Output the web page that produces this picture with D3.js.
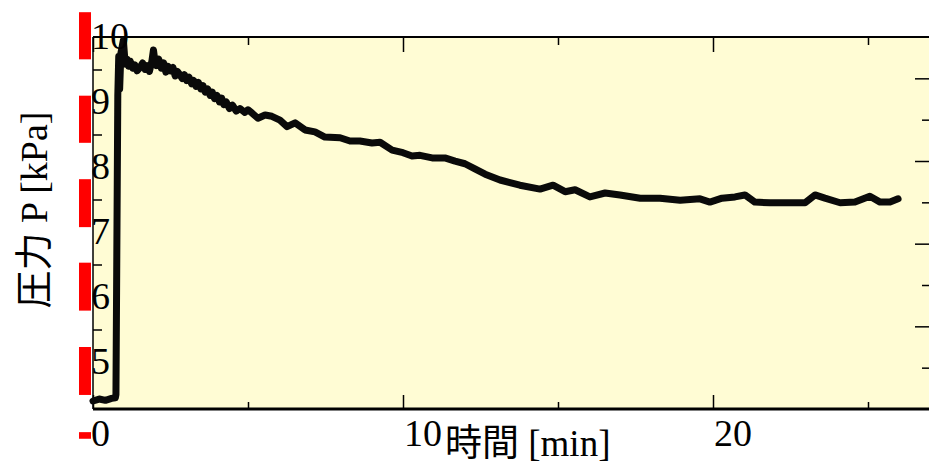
<!DOCTYPE html>
<html>
<head>
<meta charset="utf-8">
<script src="https://d3js.org/d3.v7.min.js"></script>
<style>
    body { margin: 0; background: #fff; }
    text { font-family: "Liberation Serif", "Noto Sans CJK JP", serif; fill: #000; }
</style>
</head>
<body>
<div id="chart"></div>
<script>
// time [min] and pressure [kPa]
var times = [0, 0.2, 0.4, 0.6, 0.72, 0.74, 0.80, 0.83, 0.86, 0.90, 0.98, 1.02, 1.06, 1.1, 1.15, 1.2, 1.28, 1.35,
    1.42, 1.5, 1.6, 1.68, 1.75, 1.82, 1.9, 1.95, 2.0, 2.05, 2.12, 2.2, 2.28, 2.35, 2.42, 2.5, 2.58, 2.65, 2.72, 2.8,
    2.88, 2.95, 3.02, 3.1, 3.18, 3.25, 3.32, 3.4, 3.48,
    3.55, 3.62, 3.7, 3.78, 3.85, 3.92, 4.0, 4.08, 4.15, 4.22, 4.3, 4.4, 4.5, 4.62, 4.74, 4.9, 5.0, 5.13, 5.32, 5.55, 5.77, 6.03, 6.26, 6.52,
    6.84, 7.16, 7.48, 7.97, 8.29, 8.61, 9.0, 9.26, 9.65, 10.0, 10.29, 10.55, 10.94, 11.35,
    11.68, 12.0, 12.32, 12.65, 13.13, 13.77, 14.42, 14.84, 15.23, 15.55, 16.03, 16.52, 17.0,
    17.65, 18.29, 18.94, 19.58, 19.9, 20.29, 20.71, 21.03, 21.35, 21.84, 22.48, 22.97, 23.29,
    23.61, 24.1, 24.58, 25.06, 25.39, 25.71, 25.97];
var pressure = [4.40, 4.43, 4.41, 4.44, 4.45, 4.5, 9.10, 9.70, 9.20, 9.75, 9.95, 9.70, 9.58, 9.66, 9.55, 9.63, 9.52, 9.57,
    9.48, 9.52, 9.60, 9.50, 9.56, 9.47, 9.63, 9.80, 9.62, 9.56, 9.66, 9.52, 9.60, 9.46, 9.55, 9.48, 9.53, 9.40, 9.47, 9.42,
    9.36, 9.42, 9.33, 9.38, 9.28, 9.33, 9.24, 9.30, 9.20,
    9.25, 9.15, 9.20, 9.10, 9.15, 9.05, 9.10, 9.00, 9.06, 8.96, 9.00, 8.90, 8.95, 8.86, 8.90, 8.84, 8.88, 8.83, 8.75, 8.80, 8.78, 8.72, 8.62, 8.68,
    8.57, 8.54, 8.46, 8.45, 8.40, 8.40, 8.37, 8.38, 8.26, 8.22, 8.17, 8.18, 8.14, 8.14,
    8.09, 8.05, 7.97, 7.89, 7.80, 7.72, 7.66, 7.72, 7.62, 7.65, 7.54, 7.60, 7.57,
    7.52, 7.52, 7.49, 7.51, 7.46, 7.52, 7.54, 7.57, 7.46, 7.45, 7.45, 7.45, 7.57,
    7.52, 7.45, 7.46, 7.55, 7.46, 7.46, 7.51];

var xMajor = [0, 10, 20];
var xMinor = [5, 15, 25];
var yLabels = [10, 9, 8, 7, 6, 5];
var yLeftTicks = [9.5, 8.5, 7.5, 6.5, 5.5];
var yRightMajor = [1, 2, 3, 4];
var yRightMinor = [0.5, 1.5, 2.5, 3.5];
// red marks beside the left axis, in right-axis units [low, high]
var redBars = [[4.23, 4.80], [3.22, 3.79], [2.20, 2.78], [1.19, 1.77], [0.17, 0.75], [-0.36, -0.28]];

var xTitle = "時間 [min]";
var yTitle = "圧力 P [kPa]";

var width = 929, height = 464;
var plot = {left: 93, top: 37, right: 930, bottom: 409};

var svg = d3.select("#chart").append("svg")
    .attr("width", width)
    .attr("height", height);

var xScale = d3.scaleLinear()
    .domain([0, 27])
    .range([plot.left, plot.left + 31 * 27]);

// left scale (the printed labels)
var yScale = d3.scaleLinear()
    .domain([5, 10])
    .range([362, 37]);

// right scale (the right-hand ticks)
var y2Scale = d3.scaleLinear()
    .domain([0, 4.5])
    .range([plot.bottom, plot.top]);

// plot background
svg.append("rect")
    .attr("x", plot.left)
    .attr("y", plot.top)
    .attr("width", plot.right - plot.left)
    .attr("height", plot.bottom - plot.top)
    .style("fill", "#fffcd4");

// red marks
svg.selectAll(".redBar")
    .data(redBars)
    .enter().append("rect")
    .attr("class", "redBar")
    .attr("x", 79)
    .attr("width", 12)
    .attr("y", function(d) { return y2Scale(d[1]); })
    .attr("height", function(d) { return y2Scale(d[0]) - y2Scale(d[1]); })
    .style("fill", "#ff0000");

// ticks, drawn with d3 axes (ticks pointing inside)
function tickAxis(axis, values, size, transform) {
    var g = svg.append("g")
        .attr("transform", transform)
        .call(axis.tickValues(values).tickSize(size).tickFormat(""));
    g.select(".domain").remove();
    g.selectAll(".tick line").style("stroke", "#000").style("stroke-width", 1.5);
    return g;
}

tickAxis(d3.axisTop(xScale), xMajor, 14, "translate(0," + plot.bottom + ")");
tickAxis(d3.axisTop(xScale), xMinor, 7, "translate(0," + plot.bottom + ")");
tickAxis(d3.axisBottom(xScale), xMajor, 15, "translate(0," + plot.top + ")");
tickAxis(d3.axisBottom(xScale), xMinor, 8, "translate(0," + plot.top + ")");
tickAxis(d3.axisRight(yScale), yLeftTicks, 9, "translate(" + plot.left + ",0)");
tickAxis(d3.axisLeft(y2Scale), yRightMajor, 14, "translate(929,0)");
tickAxis(d3.axisLeft(y2Scale), yRightMinor, 7, "translate(929,0)");

// frame
svg.append("line")
    .attr("x1", plot.left).attr("x2", plot.right)
    .attr("y1", plot.top).attr("y2", plot.top)
    .style("stroke", "#000").style("stroke-width", 2);
svg.append("line")
    .attr("x1", plot.left).attr("x2", plot.right)
    .attr("y1", plot.bottom).attr("y2", plot.bottom)
    .style("stroke", "#000").style("stroke-width", 3);
svg.append("line")
    .attr("x1", plot.left).attr("x2", plot.left)
    .attr("y1", plot.top).attr("y2", plot.bottom)
    .style("stroke", "#000").style("stroke-width", 1.5);

// data line
var data = times.map(function(t, i) { return {t: t, p: pressure[i]}; });

var line = d3.line()
    .x(function(d) { return xScale(d.t); })
    .y(function(d) { return yScale(d.p); });

svg.append("path")
    .datum(data)
    .attr("d", line)
    .style("fill", "none")
    .style("stroke", "#0a0a0a")
    .style("stroke-width", 7)
    .style("stroke-linejoin", "round")
    .style("stroke-linecap", "round");

// left labels
svg.selectAll(".yLabel")
    .data(yLabels)
    .enter().append("text")
    .attr("class", "yLabel")
    .attr("x", 91)
    .attr("y", function(d) { return yScale(d) + 12; })
    .style("font-size", "38px")
    .text(function(d) { return d; });

svg.append("text")
    .attr("x", 91)
    .attr("y", 446)
    .style("font-size", "38px")
    .text("0");

// x labels
svg.selectAll(".xLabel")
    .data(xMajor.filter(function(d) { return d > 0; }))
    .enter().append("text")
    .attr("class", "xLabel")
    .attr("x", function(d) { return xScale(d) + 1; })
    .attr("y", 446)
    .style("font-size", "38px")
    .text(function(d) { return d; });

// axis titles
svg.append("text")
    .attr("x", 445)
    .attr("y", 456)
    .style("font-size", "37px")
    .text(xTitle);

svg.append("text")
    .attr("transform", "translate(47,210) rotate(-90)")
    .attr("text-anchor", "middle")
    .style("font-size", "38px")
    .text(yTitle);
</script>
</body>
</html>
